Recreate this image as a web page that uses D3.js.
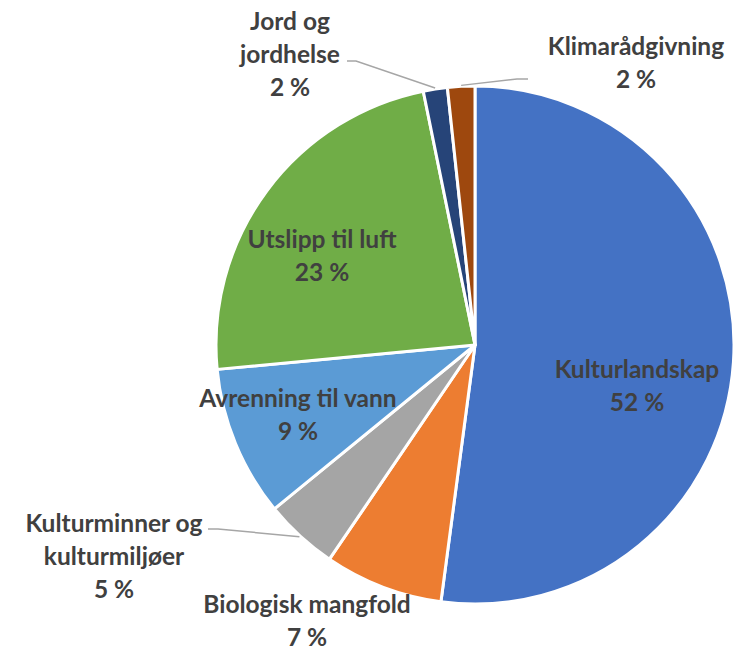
<!DOCTYPE html>
<html>
<head>
<meta charset="utf-8">
<script src="https://cdn.jsdelivr.net/npm/d3@7"></script>
<style>
  body { margin: 0; background: #fff; }
  svg { display: block; }
  text { font-family: Lato, "Open Sans", sans-serif; font-weight: bold; fill: #404040; }
</style>
</head>
<body>
<svg width="733" height="651"></svg>
<script>
// shares, clockwise from 12 o'clock
const categories = ["Kulturlandskap", "Biologisk mangfold", "Kulturminner og kulturmiljøer",
  "Avrenning til vann", "Utslipp til luft", "Jord og jordhelse", "Klimarådgivning"];
const values = [52.1, 7.4, 4.6, 9.4, 23.3, 1.5, 1.7];
const colors = ["#4472C4", "#ED7D31", "#A5A5A5", "#5B9BD5", "#70AD47", "#264478", "#9E480E"];

// how each label is broken into lines
const labelLines = {
  "Kulturlandskap": ["Kulturlandskap"],
  "Biologisk mangfold": ["Biologisk mangfold"],
  "Kulturminner og kulturmiljøer": ["Kulturminner og", "kulturmiljøer"],
  "Avrenning til vann": ["Avrenning til vann"],
  "Utslipp til luft": ["Utslipp til luft"],
  "Jord og jordhelse": ["Jord og", "jordhelse"],
  "Klimarådgivning": ["Klimarådgivning"]
};

// label layout (centre x, first line y) and leader elbows
const layout = {
  "Kulturlandskap": {x: 637, y: 368},
  "Biologisk mangfold": {x: 307, y: 603},
  "Kulturminner og kulturmiljøer": {x: 114, y: 522, lx: 208, ly: 529, ex: 218},
  "Avrenning til vann": {x: 298, y: 397},
  "Utslipp til luft": {x: 322, y: 238},
  "Jord og jordhelse": {x: 290, y: 20, lx: 347, ly: 61, ex: 356},
  "Klimarådgivning": {x: 636, y: 45, lx: 528, ly: 79, ex: 517}
};

const cx = 475, cy = 345, radius = 259;
const lineH = 33;

const svg = d3.select("svg");
const g = svg.append("g").attr("transform", `translate(${cx},${cy})`);

const pie = d3.pie().sort(null).value(d => d.value);
const arc = d3.arc().innerRadius(0).outerRadius(radius);

const data = categories.map((c, i) => ({name: c, value: values[i], color: colors[i]}));
const arcs = pie(data);
const total = d3.sum(values);

g.selectAll("path.slice")
  .data(arcs)
  .join("path")
  .attr("class", "slice")
  .attr("d", arc)
  .attr("fill", d => d.data.color)
  .attr("stroke", "#fff")
  .attr("stroke-width", 3)
  .attr("stroke-linejoin", "round");

// leader lines for the labels outside the pie
arcs.forEach(d => {
  const p = layout[d.data.name];
  if (p.lx === undefined) return;
  const m = (d.startAngle + d.endAngle) / 2;
  const px = cx + (radius + 1) * Math.sin(m);
  const py = cy - (radius + 1) * Math.cos(m);
  svg.append("polyline")
    .attr("points", [[p.lx, p.ly], [p.ex, p.ly], [px, py]].map(q => q.join(",")).join(" "))
    .attr("fill", "none")
    .attr("stroke", "#A6A6A6")
    .attr("stroke-width", 1.5);
});

// labels
arcs.forEach(d => {
  const p = layout[d.data.name];
  const lines = labelLines[d.data.name].concat([Math.round(d.data.value / total * 100) + " %"]);
  const t = svg.append("text")
    .attr("text-anchor", "middle")
    .attr("dominant-baseline", "central")
    .style("font-size", "24.5px");
  lines.forEach((s, i) => {
    t.append("tspan").attr("x", p.x).attr("y", p.y + i * lineH).text(s);
  });
});
</script>
</body>
</html>
